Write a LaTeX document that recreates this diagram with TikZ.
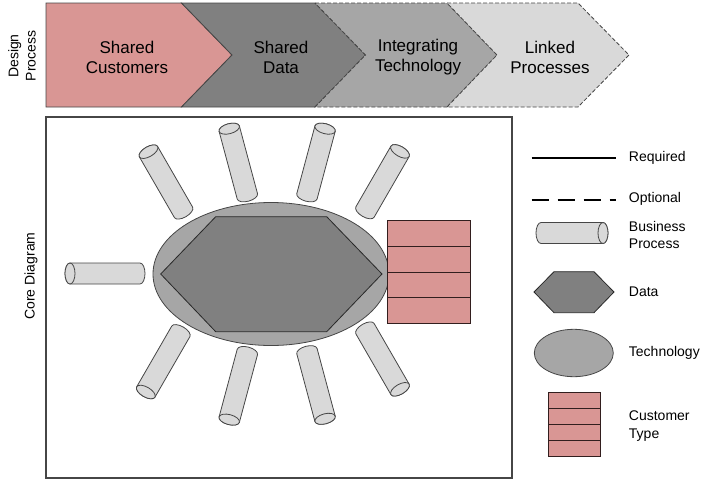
\documentclass[tikz,border=0pt]{standalone}
\usepackage{fontspec}
\setmainfont{Liberation Sans}

\definecolor{custpink}{RGB}{217,150,148}
\definecolor{datagray}{RGB}{128,128,128}
\definecolor{techgray}{RGB}{166,166,166}
\definecolor{procgray}{RGB}{217,217,217}
\definecolor{edgegray}{RGB}{70,70,70}

\tikzset{every picture/.style={line width=0.75pt}}
\tikzset{
  chev/.style={draw=edgegray, line width=0.6pt, line join=miter},
  chevopt/.style={chev, dash pattern=on 3pt off 1.5pt},
  chevtxt/.style={font=\fontsize{12.75}{15}\selectfont, align=center},
  legtxt/.style={font=\fontsize{10.5}{13}\selectfont, align=left, anchor=west},
  sidetxt/.style={font=\fontsize{10.5}{13}\selectfont, align=center, rotate=90},
  bproc/.style={draw=edgegray, fill=procgray, line width=0.6pt},
  techshape/.style={draw=edgegray, fill=techgray, line width=0.6pt},
  datashape/.style={draw={rgb,255:red,40;green,40;blue,40}, fill=datagray, line width=0.6pt},
  custrow/.style={draw={rgb,255:red,50;green,30;blue,30}, fill=custpink, line width=0.6pt},
  pics/bcan/.style={code={
    \draw[bproc] (-#1,-10.5) -- (#1,-10.5) arc[start angle=-90,end angle=90,x radius=5,y radius=10.5]
      -- (-#1,10.5) arc[start angle=90,end angle=270,x radius=5,y radius=10.5] -- cycle;
    \draw[bproc] (#1,0) ellipse [x radius=5,y radius=10.5];
  }},
  pics/bcan/.default=35
}

\begin{document}
\begin{tikzpicture}[x=0.75pt,y=0.75pt,yscale=-1,xscale=1]
	\useasboundingbox (0,0) rectangle (704,482);

	%Shape: Chevron [id:design1]
	\draw [chev, fill=custpink] (46,3) -- (181.5,3) -- (232,55) -- (181.5,107) -- (46,107) -- cycle ;
	%Shape: Chevron [id:design2]
	\draw [chev, fill=datagray] (181.5,3) -- (315,3) -- (365.5,55) -- (315,107) -- (181.5,107) -- (232,55) -- cycle ;
	%Shape: Chevron [id:design3]
	\draw [chevopt, fill=techgray] (315,3) -- (447,3) -- (497,55) -- (447,107) -- (315,107) -- (365.5,55) -- cycle ;
	%Shape: Chevron [id:design4]
	\draw [chevopt, fill=procgray] (447,3) -- (578,3) -- (629,55) -- (578,107) -- (447,107) -- (497,55) -- cycle ;

	%Shape: Rectangle [id:corebox]
	\draw [draw=edgegray, line width=1.1pt] (46,117) rectangle (512,478) ;

	%Shape: Ellipse [id:technology]
	\draw [techshape] (271,274) ellipse [x radius=118, y radius=71.5] ;
	%Shape: Hexagon [id:data]
	\draw [datashape] (160.7,274) -- (215.7,216.7) -- (326.7,216.7) -- (382,274) -- (326.7,331.7) -- (215.7,331.7) -- cycle ;

	%Shape: Stack [id:customers]
	\draw [custrow] (387.7,220.7) rectangle (470.3,246.35) ;
	\draw [custrow] (387.7,246.35) rectangle (470.3,272) ;
	\draw [custrow] (387.7,272) rectangle (470.3,297.65) ;
	\draw [custrow] (387.7,297.65) rectangle (470.3,323.3) ;

	%Shape: Can [id:processes]
	\pic [rotate=180] at (105,273.5) {bcan};
	\pic [rotate=120] at (166,182) {bcan};
	\pic [rotate=105] at (238.3,162.5) {bcan};
	\pic [rotate=75] at (316,162.5) {bcan};
	\pic [rotate=60] at (382.5,181.7) {bcan};
	\pic [rotate=240] at (163.3,361.7) {bcan};
	\pic [rotate=255] at (238.3,385.8) {bcan};
	\pic [rotate=285] at (316,385) {bcan};
	\pic [rotate=300] at (382.5,359) {bcan};

	%Legend
	\draw [line width=1.5pt] (531.7,158.3) -- (616,158.3) ;
	\draw [line width=1.5pt, dash pattern=on 12.75pt off 6.75pt] (531.7,199.7) -- (616,199.7) ;
	\pic at (572,233) {bcan=31};
	\draw [datashape] (534,292) -- (554,271.7) -- (594,271.7) -- (614,292) -- (594,312.7) -- (554,312.7) -- cycle ;
	\draw [techshape] (573.8,353) ellipse [x radius=39.5, y radius=23.7] ;
	\draw [custrow] (548.7,392.7) rectangle (600,408.5) ;
	\draw [custrow] (548.7,408.5) rectangle (600,424.35) ;
	\draw [custrow] (548.7,424.35) rectangle (600,440.2) ;
	\draw [custrow] (548.7,440.2) rectangle (600,456) ;

	% Text Node
	\node [chevtxt] (tcust) at (127,57) {Shared\\Customers};
	% Text Node
	\node [chevtxt] (tdata) at (281,57) {Shared\\Data};
	% Text Node
	\node [chevtxt] (ttech) at (418,57) {Integrating\\Technology};
	% Text Node
	\node [chevtxt] (tproc) at (550,57) {Linked\\Processes};
	% Text Node
	\node [sidetxt] (tdesign) at (22,56) {Design\\Process};
	% Text Node
	\node [sidetxt] (tcore) at (31,276) {Core Diagram};
	% Text Node
	\node [legtxt] (lreq) at (624,158) {Required};
	% Text Node
	\node [legtxt] (lopt) at (624,199) {Optional};
	% Text Node
	\node [legtxt] (lbproc) at (624,235) {Business\\Process};
	% Text Node
	\node [legtxt] (ldata) at (624,292) {Data};
	% Text Node
	\node [legtxt] (ltech) at (624,353) {Technology};
	% Text Node
	\node [legtxt] (lcust) at (624,426) {Customer\\Type};

\end{tikzpicture}
\end{document}
